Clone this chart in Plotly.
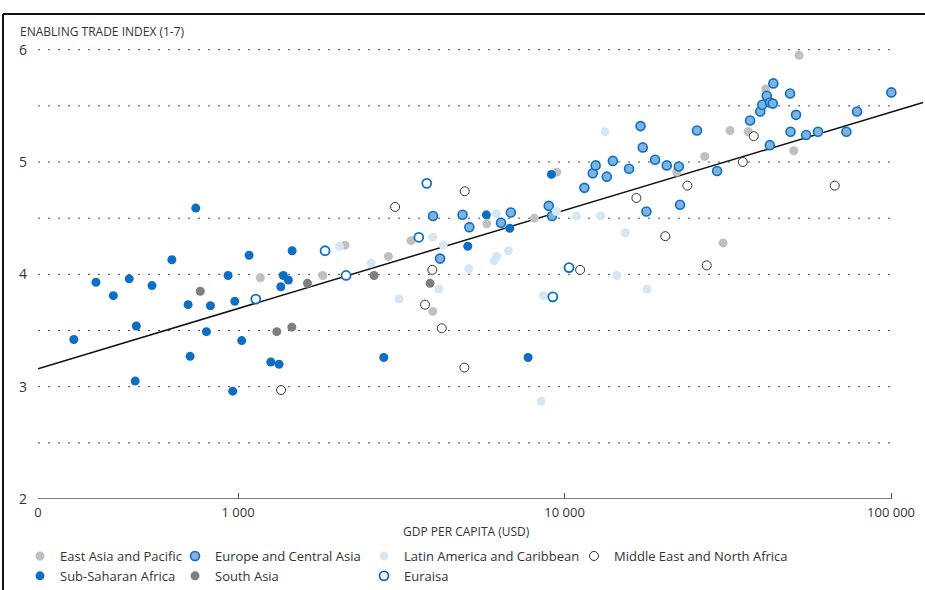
import plotly.graph_objects as go

# ---------------- data (GDP per capita USD, Enabling Trade Index 1-7) ----------------
eap_gdp = [1170, 1817, 2127, 2886, 3388, 3947, 5777, 8082, 9465, 22060, 26880, 30590,
           32130, 36480, 41320, 52260, 50350]
eap_eti = [3.97, 3.99, 4.26, 4.16, 4.30, 3.67, 4.45, 4.50, 4.91, 4.91, 5.05, 4.28,
           5.28, 5.27, 5.65, 5.95, 5.10]

eca_gdp = [3955, 4156, 4871, 5110, 6389, 6847, 8945, 9156, 11500, 12200, 12450, 13470,
           14060, 15760, 17090, 17360, 17810, 18930, 20560, 22390, 22580, 25450, 29320,
           37000, 39750, 40340, 41620, 42600, 43420, 43600, 49060, 51170, 49230, 42520,
           54920, 59750, 72980, 78690, 100200]
eca_eti = [4.52, 4.14, 4.53, 4.42, 4.46, 4.55, 4.61, 4.52, 4.77, 4.90, 4.97, 4.87,
           5.01, 4.94, 5.32, 5.13, 4.56, 5.02, 4.97, 4.96, 4.62, 5.28, 4.92,
           5.37, 5.45, 5.51, 5.59, 5.53, 5.52, 5.70, 5.61, 5.42, 5.27, 5.15,
           5.24, 5.27, 5.27, 5.45, 5.62]

lac_gdp = [2044, 2555, 3112, 3947, 4245, 4119, 5088, 6083, 6200, 6729, 6182, 9438,
           10870, 12890, 8612, 8472, 13300, 14450, 15360, 17890]
lac_eti = [4.25, 4.10, 3.78, 4.33, 4.26, 3.87, 4.05, 4.12, 4.16, 4.21, 4.54, 4.56,
           4.52, 4.52, 3.81, 2.87, 5.27, 3.99, 4.37, 3.87]

mena_gdp = [1354, 3026, 3738, 3936, 4206, 4947, 4933, 11160, 16600, 20350, 23770,
            27260, 35140, 37970, 67220]
mena_eti = [2.97, 4.60, 3.73, 4.04, 3.52, 4.74, 3.17, 4.04, 4.68, 4.34, 4.79,
            4.08, 5.00, 5.23, 4.79]

ssa_gdp = [314, 367, 415, 464, 488, 484, 545, 627, 703, 713, 742, 800, 823, 932, 963,
           977, 1026, 1081, 1260, 1335, 1352, 1376, 1426, 1464, 2794, 5052, 5761,
           6795, 7731, 9113]
ssa_eti = [3.42, 3.93, 3.81, 3.96, 3.54, 3.05, 3.90, 4.13, 3.73, 3.27, 4.59, 3.49, 3.72,
           3.99, 2.96, 3.76, 3.41, 4.17, 3.22, 3.20, 3.89, 3.99, 3.95, 4.21, 3.26, 4.25,
           4.53, 4.41, 3.26, 4.89]

sa_gdp = [766, 1631, 2609, 1314, 1461, 3873]
sa_eti = [3.85, 3.92, 3.99, 3.49, 3.53, 3.92]

eur_gdp = [1133, 1847, 2142, 3577, 3784, 10320, 9204]
eur_eti = [3.78, 4.21, 3.99, 4.33, 4.81, 4.06, 3.80]

trend_gdp = [244, 125300]
trend_eti = [3.16, 5.53]

grid_levels = [2.5, 3, 3.5, 4, 4.5, 5, 5.5, 6]
y_ticks = [2, 3, 4, 5, 6]
x_ticks = [244, 1000, 10000, 100000]
x_labels = ["0", "1 000", "10 000", "100 000"]

FONT = "Open Sans"
TXT = "#333333"

fig = go.Figure()

fig.add_trace(go.Scatter(x=trend_gdp, y=trend_eti, mode="lines",
                         line=dict(color="#111111", width=1.5),
                         showlegend=False, hoverinfo="skip"))

series = [
    ("East Asia and Pacific", eap_gdp, eap_eti,
     dict(color="#c0c0c0", size=9, line=dict(width=0)), "legend"),
    ("Sub-Saharan Africa", ssa_gdp, ssa_eti,
     dict(color="#0c6fc4", size=9, line=dict(width=0)), "legend"),
    ("Europe and Central Asia", eca_gdp, eca_eti,
     dict(color="#7fb3de", size=9, line=dict(color="#0c6fc4", width=1.6)), "legend2"),
    ("South Asia", sa_gdp, sa_eti,
     dict(color="#7f7f7f", size=9, line=dict(width=0)), "legend2"),
    ("Latin America and Caribbean", lac_gdp, lac_eti,
     dict(color="#d6e7f4", size=9, line=dict(width=0)), "legend3"),
    ("Euraisa", eur_gdp, eur_eti,
     dict(color="#ffffff", size=9, line=dict(color="#0c6fc4", width=1.8)), "legend3"),
    ("Middle East and North Africa", mena_gdp, mena_eti,
     dict(color="#ffffff", size=9, line=dict(color="#333333", width=1)), "legend4"),
]
for name, xs, ys, mk, lg in series:
    fig.add_trace(go.Scatter(x=xs, y=ys, mode="markers", name=name, marker=mk,
                             legend=lg, cliponaxis=False))

W, H, L, R, T, B = 925, 590, 38, 0, 16, 91
pw, ph = W - L - R, H - T - B

def px_x(p):
    return (p - L) / pw

def px_y(p):
    return (H - B - p) / ph

shapes = []
for lv in grid_levels:
    shapes.append(dict(type="line", xref="x", yref="y", x0=x_ticks[0], x1=x_ticks[-1],
                       y0=lv, y1=lv, line=dict(color="#444444", width=1, dash="2px,8px"),
                       layer="below"))
shapes.append(dict(type="line", xref="x", yref="y", x0=x_ticks[0], x1=x_ticks[-1],
                   y0=2, y1=2, line=dict(color="#555555", width=1.3)))
# outer frame (top and left rules)
shapes.append(dict(type="line", xref="paper", yref="paper", x0=px_x(3), x1=1.0,
                   y0=px_y(14), y1=px_y(14), line=dict(color="#111111", width=2)))
shapes.append(dict(type="line", xref="paper", yref="paper", x0=px_x(3), x1=px_x(3),
                   y0=px_y(14), y1=px_y(592), line=dict(color="#111111", width=2)))

leg_common = dict(orientation="v", xanchor="left", yanchor="top", bgcolor="rgba(0,0,0,0)",
                  font=dict(family=FONT, size=13, color=TXT), tracegroupgap=0,
                  itemsizing="trace", borderwidth=0)

fig.update_layout(
    width=W, height=H,
    margin=dict(l=L, r=R, t=T, b=B, autoexpand=False),
    paper_bgcolor="white", plot_bgcolor="white",
    font=dict(family=FONT, color=TXT),
    shapes=shapes,
    xaxis=dict(type="log", range=[2.3872, 5.104], showgrid=False, zeroline=False,
               showline=False, tickvals=x_ticks, ticktext=x_labels, ticks="inside",
               ticklen=6, tickwidth=1.2, tickcolor="#555555", ticklabelstandoff=4,
               tickfont=dict(family=FONT, size=13, color=TXT)),
    yaxis=dict(range=[2, 6.3], showgrid=False, zeroline=False, showline=False,
               tickvals=y_ticks, ticks="", ticklabelstandoff=10,
               tickfont=dict(family=FONT, size=14, color=TXT)),
    legend=dict(x=px_x(20), y=px_y(541), **leg_common),
    legend2=dict(x=px_x(175), y=px_y(541), **leg_common),
    legend3=dict(x=px_x(364), y=px_y(541), **leg_common),
    legend4=dict(x=px_x(574), y=px_y(541), **leg_common),
    annotations=[
        dict(text="ENABLING TRADE INDEX (1-7)", xref="paper", yref="paper",
             x=px_x(18), y=px_y(32), xanchor="left", yanchor="middle", showarrow=False,
             font=dict(family=FONT, size=12, color=TXT)),
        dict(text="GDP PER CAPITA (USD)", xref="paper", yref="paper",
             x=px_x(466), y=px_y(531), xanchor="center", yanchor="middle", showarrow=False,
             font=dict(family=FONT, size=12, color=TXT)),
    ],
)

fig.write_html("out.html")
